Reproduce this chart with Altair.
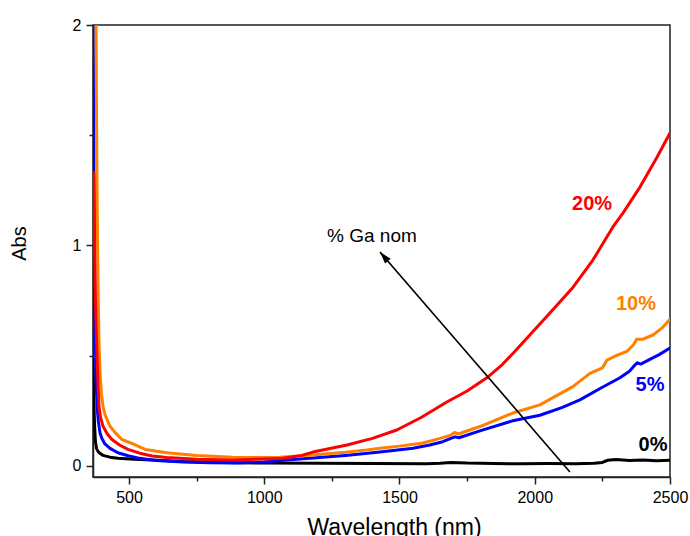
import altair as alt
import pandas as pd

# ---- data ----
wl_0 = [367, 370, 373, 376, 380, 386, 395, 404, 430, 459, 520, 585, 700, 850, 1000, 1200, 1400,
        1600, 1650, 1690, 1750, 1850, 1950, 2050, 2150, 2220, 2250, 2270, 2300, 2350, 2400, 2450, 2500]
abs_0 = [0.48, 0.30, 0.18, 0.11, 0.08, 0.065, 0.055, 0.048, 0.04, 0.035, 0.03, 0.027, 0.02, 0.016,
         0.013, 0.012, 0.011, 0.010, 0.012, 0.016, 0.013, 0.011, 0.010, 0.011, 0.010, 0.012, 0.016,
         0.026, 0.029, 0.025, 0.027, 0.024, 0.026]

wl_5 = [367, 369, 371, 374, 378, 382, 387, 393, 400, 411, 430, 459, 500, 533, 600, 700, 800, 900,
        1000, 1058, 1180, 1300, 1428, 1550, 1612, 1660, 1690, 1705, 1720, 1800, 1919, 2019, 2100,
        2167, 2240, 2315, 2350, 2372, 2380, 2392, 2420, 2460, 2500]
abs_5 = [2.1, 1.7, 1.2, 0.7, 0.4, 0.27, 0.2, 0.15, 0.125, 0.10, 0.08, 0.06, 0.045, 0.036, 0.025,
         0.018, 0.015, 0.014, 0.018, 0.025, 0.036, 0.048, 0.063, 0.08, 0.095, 0.11, 0.125, 0.132,
         0.128, 0.16, 0.205, 0.23, 0.265, 0.30, 0.35, 0.40, 0.43, 0.46, 0.468, 0.462, 0.48, 0.505, 0.535]

wl_10 = [378, 380, 382, 384, 387, 389, 393, 398, 404, 412, 430, 450, 474, 515, 560, 640, 750, 884,
         1000, 1058, 1180, 1300, 1380, 1428, 1500, 1587, 1650, 1690, 1703, 1717, 1800, 1919, 2019,
         2141, 2204, 2250, 2267, 2300, 2341, 2365, 2377, 2400, 2437, 2470, 2500]
abs_10 = [2.1, 1.6, 1.25, 1.0, 0.72, 0.57, 0.42, 0.33, 0.27, 0.23, 0.18, 0.15, 0.12, 0.10, 0.075,
          0.06, 0.048, 0.04, 0.038, 0.04, 0.05, 0.062, 0.073, 0.08, 0.09, 0.104, 0.125, 0.14, 0.152,
          0.145, 0.18, 0.24, 0.277, 0.36, 0.42, 0.445, 0.48, 0.50, 0.52, 0.55, 0.575, 0.575, 0.594,
          0.625, 0.665]

wl_20 = [370, 373, 376, 380, 384, 389, 395, 404, 420, 437, 465, 496, 540, 585, 640, 750, 884, 1000,
         1069, 1132, 1180, 1306, 1400, 1490, 1580, 1675, 1750, 1823, 1880, 1927, 2056, 2141, 2215,
         2289, 2326, 2389, 2452, 2500]
abs_20 = [1.33, 1.0, 0.75, 0.57, 0.42, 0.27, 0.22, 0.18, 0.145, 0.12, 0.095, 0.075, 0.058, 0.045,
          0.038, 0.03, 0.027, 0.032, 0.035, 0.046, 0.063, 0.095, 0.125, 0.163, 0.22, 0.29, 0.34,
          0.40, 0.46, 0.52, 0.694, 0.81, 0.934, 1.084, 1.147, 1.265, 1.40, 1.51]

label_text = ["0%", "5%", "10%", "20%"]
label_wl = [2437, 2426, 2374, 2212]
label_abs = [0.095, 0.367, 0.735, 1.19]
label_colors = ["#000000", "#0000FF", "#FF8000", "#FF0000"]

arrow_wl = [2130, 1428]
arrow_abs = [-0.027, 0.97]
note_text = ["% Ga nom"]
note_wl = [1398]
note_abs = [1.043]

x_major = [500, 1000, 1500, 2000, 2500]
x_minor = [750, 1250, 1750, 2250]
y_major_count = 2          # gives ticks 0, 1, 2
y_minor = [0.5, 1.5]

FONT = "Liberation Sans"
AX = "#222"

xscale = alt.Scale(domain=[367, 2500], nice=False, zero=False)
yscale = alt.Scale(domain=[-0.05, 2], nice=False, zero=False)

xaxis = alt.Axis(
    orient="bottom", values=x_major, format="d", grid=False, tickSize=7,
    labelOverlap=False, labelFlush=False,
    title="Wavelength (nm)", titleFontSize=23, titleFont=FONT, titleFontWeight="normal",
    titleX=301, titleY=57, titleBaseline="alphabetic", titleAlign="center", titleColor="black",
    labelFontSize=16, labelFont=FONT, labelPadding=5, labelColor="black",
    domainColor=AX, tickColor=AX, domainWidth=1.5, tickWidth=1.5,
)
yaxis = alt.Axis(
    orient="left", tickCount=y_major_count, format="d", grid=False, tickSize=7,
    labelOverlap=False, labelFlush=False,
    title="Abs", titleFontSize=20, titleFont=FONT, titleFontWeight="normal", titleColor="black",
    titleAngle=270, titleX=-74, titleY=218, titleAlign="center", titleBaseline="middle",
    labelFontSize=16, labelFont=FONT, labelPadding=5, labelColor="black",
    domainColor=AX, tickColor=AX, domainWidth=1.5, tickWidth=1.5,
)
xaxis_minor = alt.Axis(orient="bottom", values=x_minor, grid=False, tickSize=4,
                       labels=False, domain=False, title=None, tickColor=AX, tickWidth=1.5)
yaxis_minor = alt.Axis(orient="left", values=y_minor, grid=False, tickSize=4,
                       labels=False, domain=False, title=None, tickColor=AX, tickWidth=1.5)


def enc(xa=None, ya=None):
    return dict(
        x=alt.X("wl:Q", scale=xscale, axis=xa),
        y=alt.Y("abs:Q", scale=yscale, axis=ya),
    )


def curve(wl, ab, color, xa=None, ya=None):
    df = pd.DataFrame({"wl": wl, "abs": ab})
    return alt.Chart(df).mark_line(color=color, strokeWidth=3, clip=True,
                                   strokeJoin="round", strokeCap="round").encode(
        order="wl:Q", **enc(xa, ya))


layers = [
    curve(wl_0, abs_0, label_colors[0], xaxis, yaxis),
    curve(wl_5, abs_5, label_colors[1], xaxis_minor, yaxis_minor),
    curve(wl_10, abs_10, label_colors[2]),
    curve(wl_20, abs_20, label_colors[3]),
]

lab_df = pd.DataFrame({"t": label_text, "wl": label_wl, "abs": label_abs, "c": label_colors})
labels = alt.Chart(lab_df).mark_text(font=FONT, fontSize=20, fontWeight="bold",
                                     align="center", baseline="middle").encode(
    text="t:N",
    color=alt.Color("c:N", scale=None, legend=None),
    **enc(),
)

arr_df = pd.DataFrame({"wl": arrow_wl, "abs": arrow_abs, "o": [0, 1]})
arrow_line = alt.Chart(arr_df).mark_line(color="black", strokeWidth=1.6).encode(
    order="o:Q", **enc())
head_df = pd.DataFrame({"wl": arrow_wl[1:], "abs": arrow_abs[1:]})
arrow_head = alt.Chart(head_df).mark_point(
    shape="M0,0 L0.62,2 L-0.62,2 Z", size=144, angle=319, filled=True,
    color="black", opacity=1, strokeWidth=0,
).encode(**enc())

note_df = pd.DataFrame({"t": note_text, "wl": note_wl, "abs": note_abs})
note = alt.Chart(note_df).mark_text(font=FONT, fontSize=19, color="black",
                                    align="center", baseline="middle").encode(
    text="t:N", **enc())

chart = alt.layer(*layers, arrow_line, arrow_head, note, labels).resolve_axis(
    x="independent", y="independent"
).properties(
    width=577, height=452,
    autosize=alt.AutoSizeParams(type="none"),
    padding={"left": 93, "top": 25, "right": 20, "bottom": 59},
    background="white",
).configure_view(stroke=AX, strokeWidth=1.5)

chart.save("out.html", embed_options={"renderer": "svg", "actions": False})
